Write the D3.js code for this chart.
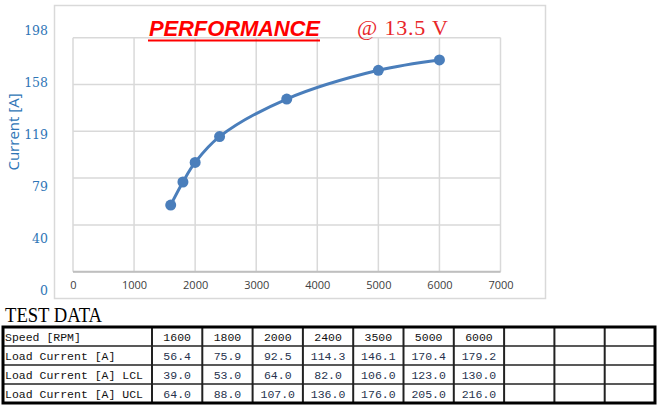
<!DOCTYPE html>
<html>
<head>
<meta charset="utf-8">
<script src="https://cdn.jsdelivr.net/npm/d3@7"></script>
<style>
  body { margin: 0; background: #fff; }
  svg { display: block; }
</style>
</head>
<body>
<svg id="chart" width="658" height="407"></svg>
<script>
// test data
var speeds = [1600, 1800, 2000, 2400, 3500, 5000, 6000];
var loadCurrent = [56.4, 75.9, 92.5, 114.3, 146.1, 170.4, 179.2];
var loadLCL = [39.0, 53.0, 64.0, 82.0, 106.0, 123.0, 130.0];
var loadUCL = [64.0, 88.0, 107.0, 136.0, 176.0, 205.0, 216.0];
var xTicks = [0, 1000, 2000, 3000, 4000, 5000, 6000, 7000];
var yTicks = [0, 39.6, 79.2, 118.8, 158.4, 198];
var yTickLabels = ["0", "40", "79", "119", "158", "198"];
var rowLabels = ["Speed [RPM]", "Load Current [A]", "Load Current [A] LCL", "Load Current [A] UCL"];
var emptyCols = 3;

var svg = d3.select("#chart");
var blue = "#4a7ebb";
var gridColor = "#d9d9d9";

// chart frame
svg.append("rect")
	.attr("x", 54.5).attr("y", 5.5)
	.attr("width", 491).attr("height", 293)
	.attr("fill", "#fff")
	.attr("stroke", "#d9d9d9")
	.attr("stroke-width", 1.5);

var x = d3.scaleLinear().domain([0, 7000]).range([73, 500.5]);
var y = d3.scaleLinear().domain([0, 198]).range([271.7, 37.7]);
// tick labels in the picture sit a bit off the gridlines
var yLab = d3.scaleLinear().domain([0, 198]).range([290, 30]);

var grid = svg.append("g").attr("class", "grid");
grid.selectAll("line.h").data(yTicks).enter().append("line")
	.attr("class", "h")
	.attr("x1", x(0)).attr("x2", x(7000))
	.attr("y1", function(d) { return y(d); })
	.attr("y2", function(d) { return y(d); })
	.attr("stroke", gridColor).attr("stroke-width", 1.5);
grid.selectAll("line.v").data(xTicks).enter().append("line")
	.attr("class", "v")
	.attr("y1", y(0)).attr("y2", y(198))
	.attr("x1", function(d) { return x(d); })
	.attr("x2", function(d) { return x(d); })
	.attr("stroke", gridColor).attr("stroke-width", 1.5);
// bottom axis line
svg.append("line")
	.attr("x1", x(0)).attr("x2", x(7000))
	.attr("y1", y(0)).attr("y2", y(0))
	.attr("stroke", "#bfbfbf").attr("stroke-width", 2);

// x axis labels
var xAxis = d3.axisBottom(x).tickValues(xTicks).tickFormat(d3.format("d"))
	.tickSize(0).tickPadding(0);
var gx = svg.append("g").attr("transform", "translate(0,281)").call(xAxis);
gx.select(".domain").remove();
gx.selectAll("text")
	.attr("fill", "#404040")
	.style("font-family", "'Open Sans', sans-serif")
	.style("font-size", "11px");

// y axis labels
var yAxis = d3.axisLeft(yLab).tickValues(yTicks)
	.tickFormat(function(d, i) { return yTickLabels[i]; })
	.tickSize(0).tickPadding(0);
var gy = svg.append("g").attr("transform", "translate(48,0)").call(yAxis);
gy.select(".domain").remove();
gy.selectAll("text")
	.attr("fill", "#2e75b6")
	.style("font-family", "'DejaVu Serif', serif")
	.style("font-size", "12.5px");

svg.append("text")
	.attr("transform", "translate(19,132) rotate(-90)")
	.attr("text-anchor", "middle")
	.attr("fill", "#2e75b6")
	.style("font-family", "'Open Sans', sans-serif")
	.style("font-size", "15px")
	.text("Current [A]");

// curve
var pts = speeds.map(function(s, i) { return [s, loadCurrent[i]]; });
var line = d3.line()
	.x(function(d) { return x(d[0]); })
	.y(function(d) { return y(d[1]); })
	.curve(d3.curveCatmullRom.alpha(0.5));
svg.append("path")
	.datum(pts)
	.attr("d", line)
	.attr("fill", "none")
	.attr("stroke", blue)
	.attr("stroke-width", 3);
svg.selectAll("circle.pt").data(pts).enter().append("circle")
	.attr("class", "pt")
	.attr("cx", function(d) { return x(d[0]); })
	.attr("cy", function(d) { return y(d[1]); })
	.attr("r", 5.5)
	.attr("fill", blue);

// title
svg.append("text")
	.attr("x", 149).attr("y", 36)
	.attr("fill", "#ff0000")
	.attr("textLength", 171)
	.style("font-family", "'Liberation Sans', Arial, sans-serif")
	.style("font-weight", "bold")
	.style("font-style", "italic")
	.style("font-size", "22px")
	.text("PERFORMANCE");
svg.append("line")
	.attr("x1", 148).attr("x2", 320)
	.attr("y1", 40.5).attr("y2", 40.5)
	.attr("stroke", "#ff0000").attr("stroke-width", 2);
svg.append("text")
	.attr("x", 357).attr("y", 35)
	.attr("fill", "#e8262a")
	.attr("textLength", 91)
	.style("font-family", "'Liberation Serif', serif")
	.style("font-size", "22px")
	.text("@ 13.5 V");

// table
svg.append("text")
	.attr("x", 5).attr("y", 322)
	.attr("fill", "#000")
	.attr("textLength", 97)
	.attr("lengthAdjust", "spacingAndGlyphs")
	.style("font-family", "'Liberation Serif', serif")
	.style("font-size", "21px")
	.text("TEST DATA");

var tLeft = 3, tTop = 327, firstW = 149, colW = 50.3, rowH = 19;
var nCols = speeds.length + emptyCols;
var tRight = tLeft + firstW + nCols * colW;
var tBottom = tTop + rowH * 4;
var rows = [speeds.map(String),
	loadCurrent.map(function(v) { return v.toFixed(1); }),
	loadLCL.map(function(v) { return v.toFixed(1); }),
	loadUCL.map(function(v) { return v.toFixed(1); })];

var table = svg.append("g").attr("class", "table");
d3.range(1, 4).forEach(function(r) {
	table.append("line")
		.attr("x1", tLeft).attr("x2", tRight)
		.attr("y1", tTop + r * rowH).attr("y2", tTop + r * rowH)
		.attr("stroke", "#222").attr("stroke-width", 1.5);
});
d3.range(0, nCols).forEach(function(c) {
	var cx = tLeft + firstW + c * colW;
	table.append("line")
		.attr("x1", cx).attr("x2", cx)
		.attr("y1", tTop).attr("y2", tBottom)
		.attr("stroke", "#222").attr("stroke-width", 2);
});
table.append("rect")
	.attr("x", tLeft).attr("y", tTop)
	.attr("width", tRight - tLeft).attr("height", tBottom - tTop)
	.attr("fill", "none")
	.attr("stroke", "#000").attr("stroke-width", 3);

rows.forEach(function(vals, r) {
	var ty = tTop + r * rowH + 14;
	table.append("text")
		.attr("x", tLeft + 2).attr("y", ty)
		.attr("fill", "#111")
		.style("font-family", "'Liberation Mono', monospace")
		.style("font-size", "11.5px")
		.text(rowLabels[r]);
	vals.forEach(function(v, c) {
		table.append("text")
			.attr("x", tLeft + firstW + (c + 0.5) * colW).attr("y", ty)
			.attr("text-anchor", "middle")
			.attr("fill", r == 0 ? "#111" : "#26324d")
			.style("font-family", "'Liberation Mono', monospace")
			.style("font-size", "11.5px")
			.text(v);
	});
});
</script>
</body>
</html>
